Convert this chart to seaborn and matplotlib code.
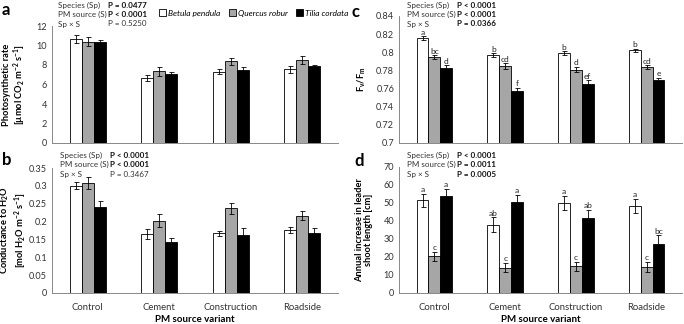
import numpy as np
import pandas as pd
import matplotlib
matplotlib.use("Agg")
import matplotlib.pyplot as plt
import matplotlib.ticker as mticker
from matplotlib.patches import Patch
import seaborn as sns

# data
sources = ["Control", "Cement", "Construction", "Roadside"]
species = ["Betula pendula", "Quercus robur", "Tilia cordata"]

photo_bp = [10.7, 6.7, 7.3, 7.55]
photo_qr = [10.4, 7.35, 8.4, 8.5]
photo_tc = [10.35, 7.1, 7.5, 7.9]
photo_err_bp = [0.4, 0.3, 0.25, 0.35]
photo_err_qr = [0.5, 0.45, 0.35, 0.4]
photo_err_tc = [0.2, 0.2, 0.25, 0.15]

cond_bp = [0.301, 0.165, 0.167, 0.176]
cond_qr = [0.308, 0.203, 0.237, 0.217]
cond_tc = [0.242, 0.142, 0.162, 0.168]
cond_err_bp = [0.01, 0.014, 0.008, 0.008]
cond_err_qr = [0.016, 0.017, 0.016, 0.013]
cond_err_tc = [0.017, 0.011, 0.021, 0.015]

fvfm_bp = [0.816, 0.797, 0.799, 0.802]
fvfm_qr = [0.795, 0.785, 0.781, 0.784]
fvfm_tc = [0.783, 0.757, 0.765, 0.769]
fvfm_err_bp = [0.002, 0.002, 0.002, 0.002]
fvfm_err_qr = [0.002, 0.003, 0.003, 0.002]
fvfm_err_tc = [0.003, 0.004, 0.004, 0.003]
fvfm_letters = [["a", "b", "b", "b"], ["bc", "cd", "d", "cd"], ["d", "f", "ef", "e"]]

shoot_bp = [51.5, 38, 50, 48.5]
shoot_qr = [20.5, 14, 15, 14.5]
shoot_tc = [54, 50.5, 41.5, 27.5]
shoot_err_bp = [3.5, 4, 4, 4]
shoot_err_qr = [2.5, 2.5, 2.5, 3]
shoot_err_tc = [4, 4, 4.5, 4.5]
shoot_letters = [["a", "ab", "a", "a"], ["c", "c", "c", "c"], ["a", "a", "ab", "bc"]]

stats_a = ["P = 0.0477", "P < 0.0001", "P = 0.5250"]
stats_b = ["P < 0.0001", "P < 0.0001", "P = 0.3467"]
stats_c = ["P < 0.0001", "P < 0.0001", "P = 0.0366"]
stats_d = ["P < 0.0001", "P = 0.0011", "P = 0.0005"]
stat_names = ["Species (Sp)", "PM source (S)", "Sp \u00d7 S"]

colors = ["white", "#a6a6a6", "black"]

plt.rcParams["font.family"] = ["Lato", "DejaVu Sans"]
plt.rcParams["mathtext.fontset"] = "custom"
plt.rcParams["mathtext.rm"] = "Lato"
plt.rcParams["mathtext.it"] = "Lato:italic"
plt.rcParams["mathtext.bf"] = "Lato:bold"
plt.rcParams["mathtext.default"] = "regular"

W, H = 684, 324
fig = plt.figure(figsize=(W / 100, H / 100), dpi=100)


def px_axes(left, top, right, bottom):
    return fig.add_axes([left / W, 1 - bottom / H, (right - left) / W, (bottom - top) / H])


def panel(ax, vals, errs, ylim, step, ylabel, label_x, show_x, letters=None, lpad=0):
    df = pd.DataFrame({
        "source": np.tile(sources, 3),
        "species": np.repeat(species, 4),
        "value": np.concatenate(vals),
    })
    sns.barplot(data=df, x="source", y="value", hue="species", hue_order=species,
                palette=colors, width=0.5, gap=0, errorbar=None, ax=ax,
                edgecolor="black", linewidth=0.6, legend=False)
    bars = list(ax.containers)
    for i, cont in enumerate(bars):
        xs = [b.get_x() + b.get_width() / 2 for b in cont]
        ax.errorbar(xs, vals[i], yerr=errs[i], fmt="none", ecolor="black",
                    elinewidth=0.6, capsize=1.8, capthick=0.6)
        if letters is not None:
            for x, v, e, t in zip(xs, vals[i], errs[i], letters[i]):
                ax.text(x, v + e + lpad, t, ha="center", va="bottom", fontsize=6, color="#222222")
    ax.set_ylim(*ylim)
    ax.set_yticks(np.arange(ylim[0], ylim[1] + step / 2, step))
    ax.yaxis.set_major_formatter(mticker.FuncFormatter(lambda v, p: "%g" % round(v, 3)))
    ax.set_xlim(-0.5, 3.5)
    sns.despine(ax=ax)
    for s in ["left", "bottom"]:
        ax.spines[s].set_color("#888888")
        ax.spines[s].set_linewidth(0.7)
    ax.tick_params(axis="y", labelsize=6.6, length=0, pad=3.5, colors="#333333")
    ax.tick_params(axis="x", length=0, labelsize=6.8, pad=7, colors="#333333")
    ax.set_ylabel(ylabel, fontsize=6.7, fontweight="bold", va="center", linespacing=1.1)
    pos = ax.get_position()
    ax.yaxis.set_label_coords((label_x / W - pos.x0) / pos.width, 0.5)
    if show_x:
        ax.set_xlabel("PM source variant", fontsize=7, fontweight="bold", labelpad=2)
    else:
        ax.set_xlabel("")
        ax.set_xticklabels([])


ax_a = px_axes(52, 26, 338, 143)
panel(ax_a, [photo_bp, photo_qr, photo_tc], [photo_err_bp, photo_err_qr, photo_err_tc],
      (0, 12), 2, "Photosynthetic rate\n[\u00b5mol CO$_2$ m$^{-2}$ s$^{-1}$]", 15, False)

ax_b = px_axes(52, 168, 338, 293)
panel(ax_b, [cond_bp, cond_qr, cond_tc], [cond_err_bp, cond_err_qr, cond_err_tc],
      (0, 0.35), 0.05, "Conductance to H$_2$O\n[mol H$_2$O m$^{-2}$ s$^{-1}$]", 13.5, True)

ax_c = px_axes(399, 16, 682, 143)
panel(ax_c, [fvfm_bp, fvfm_qr, fvfm_tc], [fvfm_err_bp, fvfm_err_qr, fvfm_err_tc],
      (0.7, 0.84), 0.02, "F$_v$/F$_m$", 362, False, fvfm_letters, 0.0005)

ax_d = px_axes(399, 167, 682, 293)
panel(ax_d, [shoot_bp, shoot_qr, shoot_tc], [shoot_err_bp, shoot_err_qr, shoot_err_tc],
      (0, 70), 10, "Annual increase in leader\nshoot length [cm]", 364, True, shoot_letters, 0.5)

# stats text blocks and panel letters
def stats_block(x, y, vals):
    for k, (n, v) in enumerate(zip(stat_names, vals)):
        yy = 1 - (y + k * 9.5) / H
        fig.text(x / W, yy, n, fontsize=5.8, color="#333333", va="center")
        bold = "0.0001" in v or float(v.split()[-1]) < 0.05
        fig.text((x + 50) / W, yy, v, fontsize=5.8, va="center",
                 fontweight="bold" if bold else "normal", color="#111111" if bold else "#333333")


stats_block(58, 5, stats_a)
stats_block(60, 155, stats_b)
stats_block(407, 5, stats_c)
stats_block(407, 155, stats_d)

for lab, x, y in [("a", 2, 10), ("b", 2, 160), ("c", 352, 12), ("d", 354, 161)]:
    fig.text(x / W, 1 - y / H, lab, fontsize=12, fontweight="bold", va="center")

handles = [Patch(facecolor=c, edgecolor="black", linewidth=0.6) for c in colors]
fig.legend(handles, species, loc="center", bbox_to_anchor=(254 / W, 1 - 13 / H), ncol=3,
           frameon=False, prop={"size": 6, "style": "italic"}, handlelength=0.8, handleheight=0.8,
           handletextpad=0.3, columnspacing=1.0)

fig.savefig("out.png", dpi=100)
